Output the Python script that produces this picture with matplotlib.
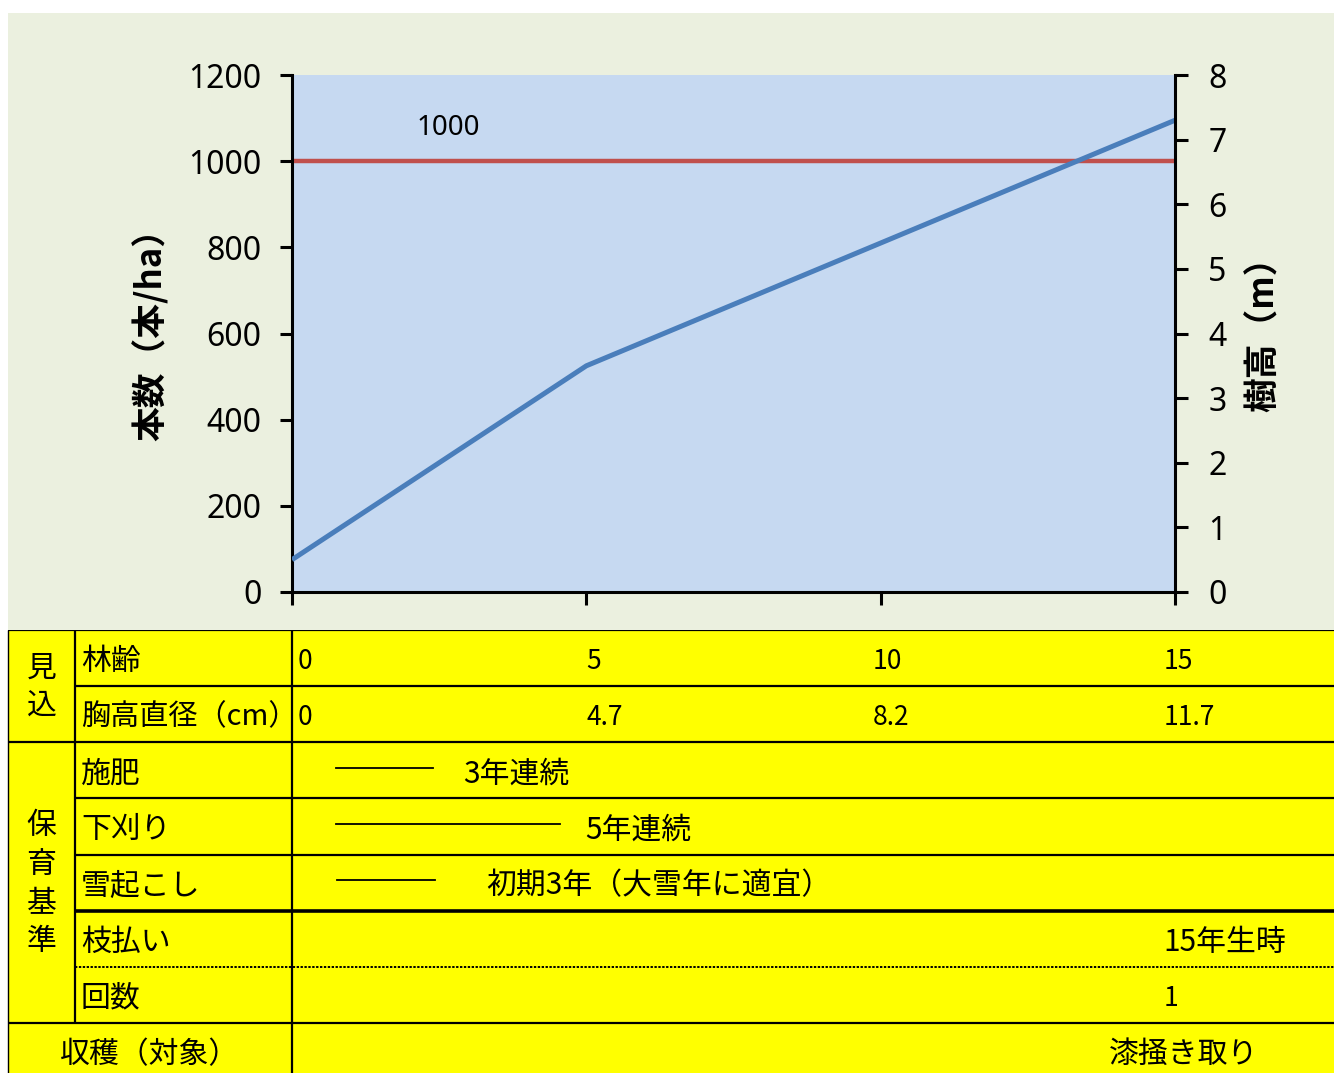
import matplotlib
matplotlib.use("Agg")
import matplotlib.pyplot as plt
from matplotlib.patches import Rectangle

plt.rcParams["font.family"] = ["Noto Sans CJK JP", "DejaVu Sans"]

W, H = 1334, 1073

# chart data
ages = [0, 5, 10, 15]
stand_density = [1000, 1000, 1000, 1000]   # 本/ha
tree_height = [0.5, 3.5, 5.4, 7.3]          # m
density_label_age = 2.65

# table data
dbh = ["0", "4.7", "8.2", "11.7"]
value_x = [0.1, 5.0, 9.87, 14.8]
row_labels = ["林齢", "胸高直径（cm）", "施肥", "下刈り", "雪起こし", "枝払い", "回数"]
group_labels = [("見込", 0, 2), ("保育基準", 2, 7)]
work_span = [(0.75, 2.4), (0.75, 4.55), (0.77, 2.43)]
work_note = ["3年連続", "5年連続", "初期3年（大雪年に適宜）"]
work_note_x = [2.9, 4.98, 3.3]
pruning = ["15年生時", "1"]
harvest = "漆掻き取り"

BG = "#EBF0DF"
PLOT_BG = "#C6D9F1"
BLUE = "#4A7EBB"
RED = "#C0504D"
YELLOW = "#FFFF00"

fig = plt.figure(figsize=(W / 100, H / 100), dpi=100)
fig.add_artist(Rectangle((8 / W, (H - 630) / H), 1 - 8 / W, (630 - 13) / H,
                         transform=fig.transFigure, facecolor=BG, edgecolor="none", zorder=0))

# ---- chart ----
ax = fig.add_axes([292 / W, (H - 592) / H, 883 / W, 517 / H])
ax.set_facecolor(PLOT_BG)
ax.plot(ages, stand_density, color=RED, lw=3.2, solid_capstyle="butt")
ax.set_xlim(0, 15)
ax.set_ylim(0, 1200)
ax.set_yticks(range(0, 1201, 200))
ax.set_xticks(ages)
ax.tick_params(axis="x", labelbottom=False, length=9, width=2.2, direction="out")
ax.tick_params(axis="y", length=9, width=2.2, labelsize=23, pad=13)
for lab in ax.get_yticklabels():
    lab.set_family("Noto Sans")
ax.spines["top"].set_visible(False)
ax.spines["right"].set_visible(False)
ax.spines["left"].set_linewidth(2.2)
ax.spines["bottom"].set_linewidth(2.2)
ax.set_ylabel("本数（本/ha）", fontsize=25, fontweight="bold")
ax.yaxis.set_label_coords(-0.14, 0.515)
ax.annotate("1000", xy=(density_label_age, 1000), xytext=(0, 24),
            textcoords="offset points", ha="center", va="center",
            fontsize=20, family="Noto Sans")

ax2 = ax.twinx()
ax2.plot(ages, tree_height, color=BLUE, lw=3.6, solid_capstyle="butt")
ax2.set_ylim(0, 8)
ax2.set_yticks(range(0, 9))
ax2.tick_params(axis="y", length=9, width=2.2, labelsize=23, pad=15)
for lab in ax2.get_yticklabels():
    lab.set_family("Noto Sans")
for s in ["top", "left", "bottom"]:
    ax2.spines[s].set_visible(False)
ax2.spines["right"].set_linewidth(2.2)
ax2.set_ylabel("樹高（m）", fontsize=25, fontweight="bold")
ax2.yaxis.set_label_coords(1.08, 0.515)

# ---- table ----
PX = 883 / 15
ROW = (1023 - 630) / 7
axt = fig.add_axes([0, 0, 1, (H - 630) / H])
axt.set_xlim(-292 / PX, (W - 292) / PX)
axt.set_ylim((H - 630) / ROW, 0)
axt.axis("off")

x_left = (8 - 292) / PX
x_col1 = (75 - 292) / PX
x_right = (W - 292) / PX
axt.add_patch(Rectangle((x_left, 0), x_right - x_left + 1, 9, facecolor=YELLOW, edgecolor="none"))

lw = 1.6
axt.hlines([0, 2, 7], x_left, x_right + 1, color="black", lw=lw)
axt.hlines([1, 3, 4], x_col1, x_right + 1, color="black", lw=lw)
axt.hlines([5], x_col1, x_right + 1, color="black", lw=2.6)
axt.hlines([6], x_col1, x_right + 1, color="black", lw=1.4, linestyles=(0, (1.2, 0.8)))
axt.vlines([x_left], 0, 9, color="black", lw=1.0)
axt.vlines([x_col1], 0, 7, color="black", lw=lw)
axt.vlines([0], 0, 9, color="black", lw=lw)

fs = 21.5     # CJK text
fn = 19       # numbers
dy = 0.06
for i, lab in enumerate(row_labels):
    axt.text(x_col1 + 0.1, i + 0.5 + dy, lab, fontsize=fs if i != 1 else 21,
             va="center", ha="left")

x_grp = (x_left + x_col1) / 2
for name, r0, r1 in group_labels:
    yc = (r0 + r1) / 2
    n = len(name)
    for k, ch in enumerate(name):
        axt.text(x_grp, yc + (k - (n - 1) / 2) * 0.69 + 0.02, ch, fontsize=fs,
                 ha="center", va="center")

for k in range(len(ages)):
    axt.text(value_x[k], 0.5 + dy, str(ages[k]), fontsize=fn, va="center", ha="left")
    axt.text(value_x[k], 1.5 + dy, dbh[k], fontsize=fn, va="center", ha="left")

for k in range(len(work_span)):
    r = 2 + k + 0.45
    axt.plot(work_span[k], [r, r], color="black", lw=1.3)
    axt.text(work_note_x[k], 2 + k + 0.5 + dy, work_note[k], fontsize=fs,
             va="center", ha="left")

axt.text(value_x[3], 5.5 + dy, pruning[0], fontsize=fs, va="center", ha="left")
axt.text(value_x[3], 6.5 + dy, pruning[1], fontsize=fn, va="center", ha="left")
axt.text(x_left / 2, 7.5 + dy, "収穫（対象）", fontsize=fs, va="center", ha="center")
axt.text(13.88, 7.5 + dy, harvest, fontsize=fs, va="center", ha="left")

fig.savefig("out.png", dpi=100)
